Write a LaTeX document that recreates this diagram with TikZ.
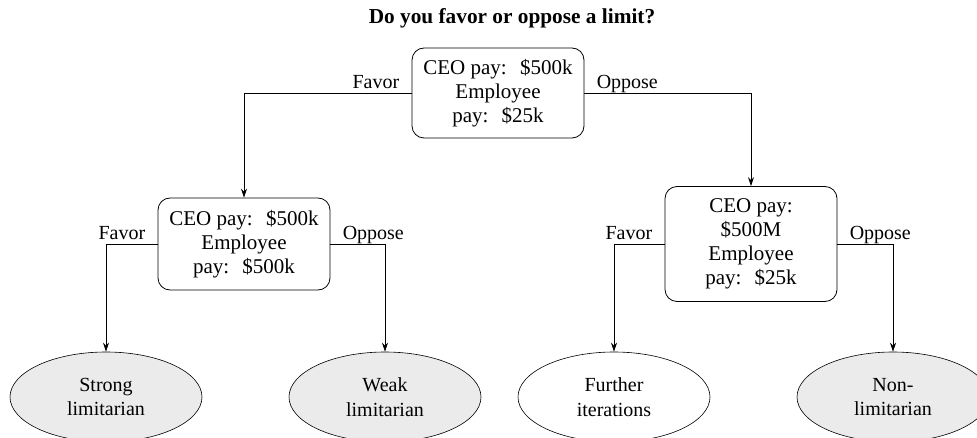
\documentclass[tikz,border=0pt]{standalone}
\usepackage{fontspec}
\setmainfont{Liberation Serif}
\usetikzlibrary{arrows.meta,shapes.geometric}
\definecolor{ellfill}{RGB}{235,235,235}
\newcommand{\cgap}{\hspace{0.3em} }
\begin{document}
\begin{tikzpicture}[x=1pt,y=-1pt,
  every node/.style={font=\fontsize{20}{24}\selectfont},
  qbox/.style={draw, rounded corners=12pt, align=center, minimum width=172pt, inner sep=4pt, line width=0.8pt, font=\fontsize{21}{24}\selectfont},
  leaf/.style={draw, ellipse, align=center, minimum width=192pt, minimum height=90pt, inner sep=0pt, line width=0.6pt, font=\fontsize{20}{24.5}\selectfont},
  arr/.style={-{Stealth[length=9pt,width=6pt]}, line width=0.7pt},
  lbll/.style={anchor=base east, inner sep=0pt, xshift=-12pt, yshift=4pt},
  lblr/.style={anchor=base west, inner sep=0pt, xshift=12pt, yshift=4pt}]
\useasboundingbox (0,0) rectangle (977,438);
\node[font=\fontsize{21.3}{24}\selectfont\bfseries] (title) at (512,18) {Do you favor or oppose a limit?};
\node[qbox, minimum height=90pt] (top) at (498,93) {CEO pay:\cgap\$500k\\Employee\\pay:\cgap\$25k};
\node[qbox, minimum height=92pt] (left) at (244,244) {CEO pay:\cgap\$500k\\Employee\\pay:\cgap\$500k};
\node[qbox, minimum height=115pt] (right) at (751,244) {CEO pay:\\\$500M\\Employee\\pay:\cgap\$25k};
\node[leaf, fill=ellfill] (strong) at (106,397) {Strong\\limitarian};
\node[leaf, fill=ellfill] (weak) at (385,397) {Weak\\limitarian};
\node[leaf, fill=white] (further) at (614,397) {Further\\iterations};
\node[leaf, fill=ellfill] (non) at (893,397) {Non-\\limitarian};
\draw[arr] (top.west) node[lbll] (tf) {Favor} -| (left.north);
\draw[arr] (top.east) node[lblr] (to) {Oppose} -| (right.north);
\draw[arr] (left.west) node[lbll] (lf) {Favor} -| (strong.north);
\draw[arr] (left.east) node[lblr] (lo) {Oppose} -| (weak.north);
\draw[arr] (right.west) node[lbll] (rf) {Favor} -| (further.north);
\draw[arr] (right.east) node[lblr] (ro) {Oppose} -| (non.north);
\end{tikzpicture}
\end{document}
